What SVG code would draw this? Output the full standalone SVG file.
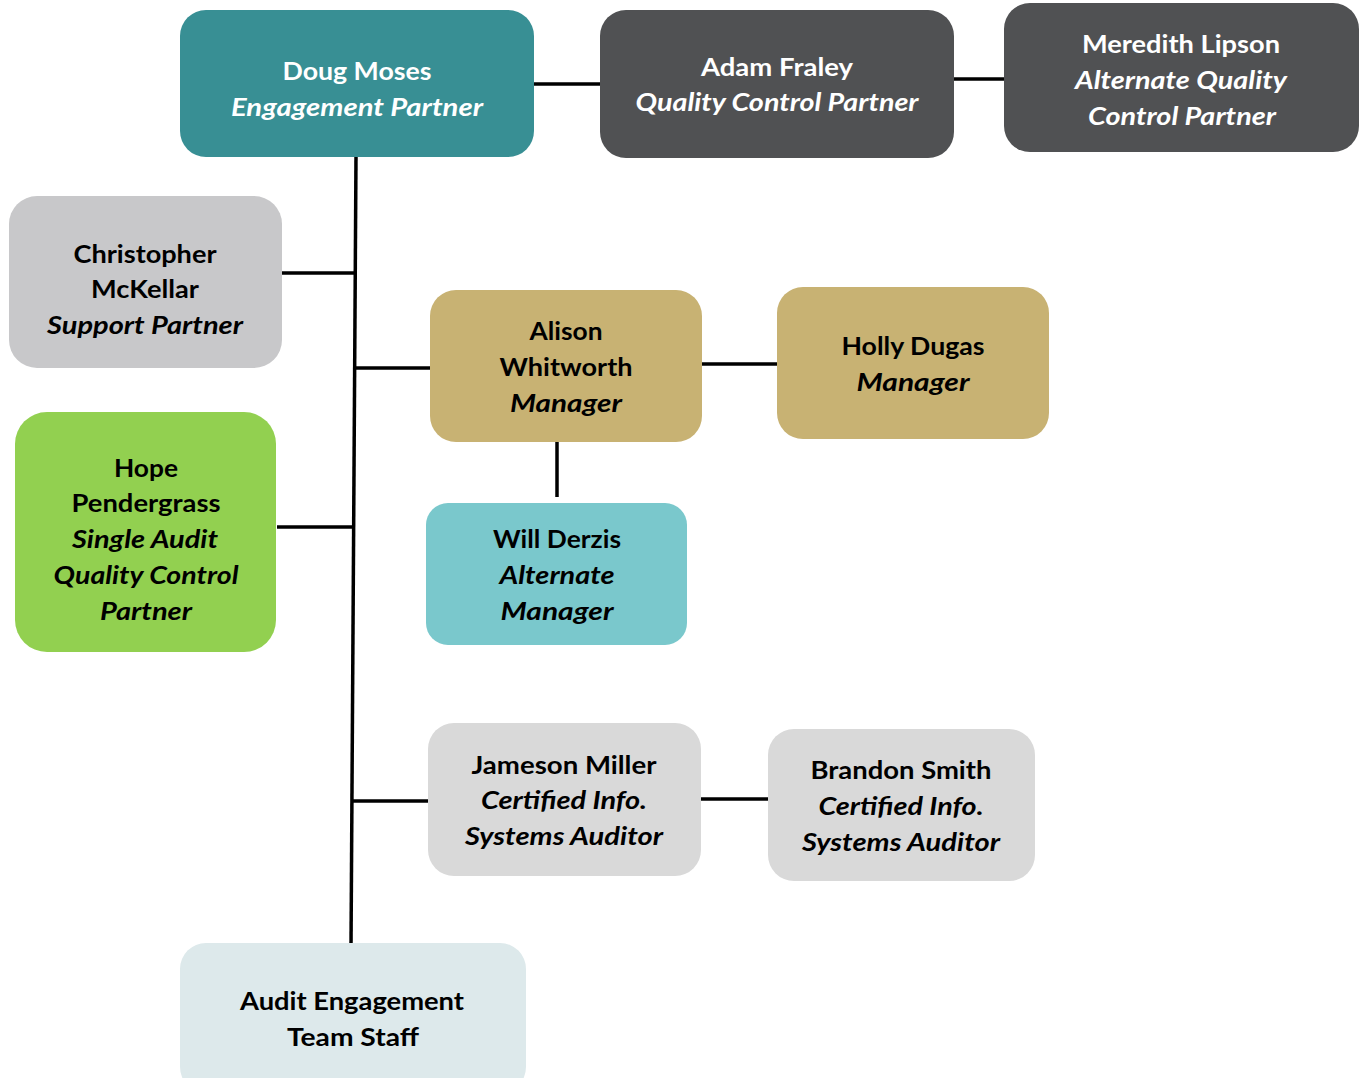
<svg xmlns="http://www.w3.org/2000/svg" width="1365" height="1078" viewBox="0 0 1365 1078">
<style>
text{font-family:Lato,"Open Sans","Liberation Sans",sans-serif;font-weight:bold;font-size:25px;text-anchor:middle}
.i{font-style:italic}
.w{fill:#ffffff}
.k{fill:#000000}
#connectors line{stroke:#000;stroke-width:3.5;stroke-linecap:butt}
</style>
<rect width="1365" height="1078" fill="#ffffff"/>
<g id="connectors">
<line x1="356" y1="156" x2="351" y2="947"/>
<line x1="277" y1="273" x2="355" y2="273"/>
<line x1="355" y1="368" x2="432" y2="368"/>
<line x1="277" y1="527" x2="353" y2="527"/>
<line x1="352" y1="801" x2="430" y2="801"/>
<line x1="532" y1="84" x2="600" y2="84"/>
<line x1="952" y1="79" x2="1006" y2="79"/>
<line x1="701" y1="364" x2="779" y2="364"/>
<line x1="557" y1="442" x2="557" y2="497"/>
<line x1="700" y1="799" x2="775" y2="799"/>
</g>
<g id="doug">
<rect x="180" y="10" width="354" height="147" rx="26" fill="#388f94"/>
<text class="w" x="357" y="80" textLength="149" lengthAdjust="spacingAndGlyphs">Doug Moses</text>
<text class="w i" x="357" y="116" textLength="252" lengthAdjust="spacingAndGlyphs">Engagement Partner</text>
</g>
<g id="adam">
<rect x="600" y="10" width="354" height="148" rx="26" fill="#505153"/>
<text class="w" x="777" y="76" textLength="152" lengthAdjust="spacingAndGlyphs">Adam Fraley</text>
<text class="w i" x="777" y="111" textLength="283" lengthAdjust="spacingAndGlyphs">Quality Control Partner</text>
</g>
<g id="meredith">
<rect x="1004" y="3" width="355" height="149" rx="26" fill="#505153"/>
<text class="w" x="1181" y="53" textLength="198" lengthAdjust="spacingAndGlyphs">Meredith Lipson</text>
<text class="w i" x="1181" y="89" textLength="212" lengthAdjust="spacingAndGlyphs">Alternate Quality</text>
<text class="w i" x="1182" y="125" textLength="188" lengthAdjust="spacingAndGlyphs">Control Partner</text>
</g>
<g id="christopher">
<rect x="9" y="196" width="273" height="172" rx="28" fill="#c8c8ca"/>
<text class="k" x="145" y="263" textLength="143" lengthAdjust="spacingAndGlyphs">Christopher</text>
<text class="k" x="145" y="298" textLength="108" lengthAdjust="spacingAndGlyphs">McKellar</text>
<text class="k i" x="145" y="334" textLength="196" lengthAdjust="spacingAndGlyphs">Support Partner</text>
</g>
<g id="hope">
<rect x="15" y="412" width="261" height="240" rx="32" fill="#92d050"/>
<text class="k" x="146" y="477" textLength="64" lengthAdjust="spacingAndGlyphs">Hope</text>
<text class="k" x="146" y="512" textLength="149" lengthAdjust="spacingAndGlyphs">Pendergrass</text>
<text class="k i" x="145" y="548" textLength="146" lengthAdjust="spacingAndGlyphs">Single Audit</text>
<text class="k i" x="146" y="584" textLength="185" lengthAdjust="spacingAndGlyphs">Quality Control</text>
<text class="k i" x="146" y="620" textLength="92" lengthAdjust="spacingAndGlyphs">Partner</text>
</g>
<g id="alison">
<rect x="430" y="290" width="272" height="152" rx="26" fill="#c8b273"/>
<text class="k" x="566" y="340" textLength="73" lengthAdjust="spacingAndGlyphs">Alison</text>
<text class="k" x="566" y="376" textLength="133" lengthAdjust="spacingAndGlyphs">Whitworth</text>
<text class="k i" x="566" y="412" textLength="112" lengthAdjust="spacingAndGlyphs">Manager</text>
</g>
<g id="holly">
<rect x="777" y="287" width="272" height="152" rx="26" fill="#c8b273"/>
<text class="k" x="913" y="355" textLength="143" lengthAdjust="spacingAndGlyphs">Holly Dugas</text>
<text class="k i" x="913" y="391" textLength="113" lengthAdjust="spacingAndGlyphs">Manager</text>
</g>
<g id="will">
<rect x="426" y="503" width="261" height="142" rx="22" fill="#7ac8cc"/>
<text class="k" x="557" y="548" textLength="128" lengthAdjust="spacingAndGlyphs">Will Derzis</text>
<text class="k i" x="557" y="584" textLength="115" lengthAdjust="spacingAndGlyphs">Alternate</text>
<text class="k i" x="557" y="620" textLength="113" lengthAdjust="spacingAndGlyphs">Manager</text>
</g>
<g id="jameson">
<rect x="428" y="723" width="273" height="153" rx="26" fill="#d9d9d9"/>
<text class="k" x="564" y="774" textLength="185" lengthAdjust="spacingAndGlyphs">Jameson Miller</text>
<text class="k i" x="564" y="809" textLength="166" lengthAdjust="spacingAndGlyphs">Certified Info.</text>
<text class="k i" x="564" y="845" textLength="198" lengthAdjust="spacingAndGlyphs">Systems Auditor</text>
</g>
<g id="brandon">
<rect x="768" y="729" width="267" height="152" rx="26" fill="#d9d9d9"/>
<text class="k" x="901" y="779" textLength="181" lengthAdjust="spacingAndGlyphs">Brandon Smith</text>
<text class="k i" x="901" y="815" textLength="165" lengthAdjust="spacingAndGlyphs">Certified Info.</text>
<text class="k i" x="901" y="851" textLength="198" lengthAdjust="spacingAndGlyphs">Systems Auditor</text>
</g>
<g id="audit">
<rect x="180" y="943" width="346" height="150" rx="26" fill="#dde9eb"/>
<text class="k" x="352" y="1010" textLength="224" lengthAdjust="spacingAndGlyphs">Audit Engagement</text>
<text class="k" x="353" y="1046" textLength="132" lengthAdjust="spacingAndGlyphs">Team Staff</text>
</g>
</svg>
